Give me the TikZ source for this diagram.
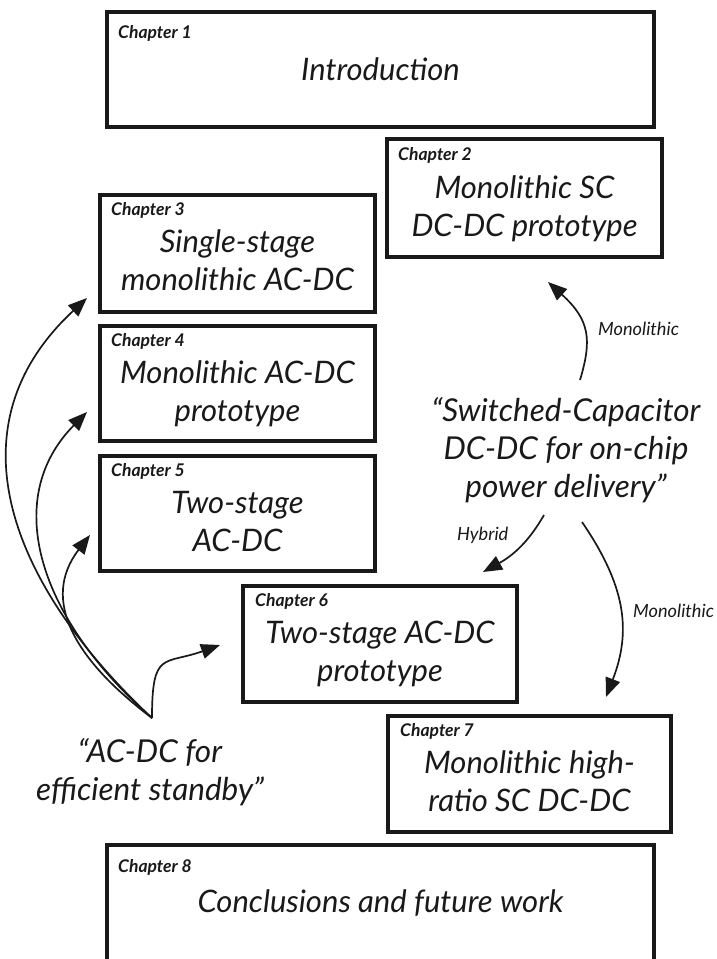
\documentclass[tikz,border=0pt]{standalone}
\usepackage{fontspec}
\setmainfont{Lato}
\usetikzlibrary{arrows.meta,calc}
\begin{document}
\begin{tikzpicture}[x=1pt,y=-1pt,
  chbox/.style={draw=black!90, line width=3.2pt, inner sep=0pt, outer sep=0pt, anchor=north west},
  chlabel/.style={font=\fontsize{17.5}{20}\selectfont\bfseries\itshape, anchor=base west, inner sep=0pt, text=black!90},
  maintext/.style={font=\fontsize{31}{38}\selectfont\itshape, align=center, anchor=base, inner sep=0pt, text=black!90},
  quotetext/.style={font=\fontsize{31.5}{38}\selectfont\itshape, align=center, anchor=base, inner sep=0pt, text=black!90},
  edgelabel/.style={font=\fontsize{18.2}{21}\selectfont\itshape, anchor=base west, inner sep=0pt, text=black!90},
  conn/.style={line width=1.7pt, draw=black!90, -{Triangle[length=19pt,width=15pt]}}]
\useasboundingbox (0,0) rectangle (717,959);

% Chapter boxes (multi-line texts are anchored at the baseline of their last line)
\node[chbox, minimum width=547pt, minimum height=115pt] (c1) at (107,12) {};
\node[chlabel] (l1) at ([xshift=11pt,yshift=-26pt]c1.north west) {Chapter 1};
\node[maintext] (t1) at ([yshift=-68pt]c1.north) {Introduction};

\node[chbox, minimum width=275pt, minimum height=118pt] (c2) at (387,139) {};
\node[chlabel] (l2) at ([xshift=11pt,yshift=-21pt]c2.north west) {Chapter 2};
\node[maintext] (t2) at ([yshift=-97pt]c2.north) {Monolithic SC\\DC-DC prototype};

\node[chbox, minimum width=275pt, minimum height=117pt] (c3) at (100,195) {};
\node[chlabel] (l3) at ([xshift=11pt,yshift=-20pt]c3.north west) {Chapter 3};
\node[maintext] (t3) at ([yshift=-95pt]c3.north) {Single-stage\\monolithic AC-DC};

\node[chbox, minimum width=275pt, minimum height=115pt] (c4) at (100,326) {};
\node[chlabel] (l4) at ([xshift=11pt,yshift=-20pt]c4.north west) {Chapter 4};
\node[maintext] (t4) at ([yshift=-95pt]c4.north) {Monolithic AC-DC\\prototype};

\node[chbox, minimum width=275pt, minimum height=115pt] (c5) at (100,456) {};
\node[chlabel] (l5) at ([xshift=11pt,yshift=-20pt]c5.north west) {Chapter 5};
\node[maintext] (t5) at ([yshift=-95pt]c5.north) {Two-stage\\AC-DC};

\node[chbox, minimum width=274pt, minimum height=116pt] (c6) at (243,586) {};
\node[chlabel] (l6) at ([xshift=12pt,yshift=-20pt]c6.north west) {Chapter 6};
\node[maintext] (t6) at ([yshift=-95pt]c6.north) {Two-stage AC-DC\\prototype};

\node[chbox, minimum width=283pt, minimum height=116pt] (c7) at (388,716) {};
\node[chlabel] (l7) at ([xshift=12pt,yshift=-20pt]c7.north west) {Chapter 7};
\node[maintext] (t7) at ([yshift=-95pt]c7.north) {Monolithic high-\\ratio SC DC-DC};

\node[chbox, minimum width=547pt, minimum height=150pt] (c8) at (107,845) {};
\node[chlabel] (l8) at ([xshift=11pt,yshift=-27pt]c8.north west) {Chapter 8};
\node[maintext] (t8) at ([yshift=-67pt]c8.north) {Conclusions and future work};

% Theme texts
\node[quotetext] (q1) at (150,800) {“AC-DC for\\efficient standby”};
\node[quotetext] (q2) at (566,497) {“Switched-Capacitor\\DC-DC for on-chip\\power delivery”};

% Edge labels
\node[edgelabel] (m1) at (598,335) {Monolithic};
\node[edgelabel] (hy) at (457,540) {Hybrid};
\node[edgelabel] (m2) at (633,617) {Monolithic};

% Arrow start / end points
\coordinate (s1) at (152,718);
\coordinate (s2) at (580,380);
\coordinate (s3) at (544,515);
\coordinate (s4) at (582,522);
\coordinate (e3) at ($(c3.south west)+(-13,-14)$);
\coordinate (e4) at ($(c4.south west)+(-13,-29)$);
\coordinate (e5) at ($(c5.south west)+(-10,-36)$);
\coordinate (e6) at ($(c6.west)+(-23,1)$);
\coordinate (e2) at ($(c2.south)+(23.5,25)$);
\coordinate (e6b) at ($(c6.north east)+(-34,-14)$);
\coordinate (e7) at ($(c7.north)+(76.5,-19)$);

% Connectors
\draw[conn] (s1) .. controls (15,590) and (-55,430) .. (e3);
\draw[conn] (s1) .. controls (40,620) and (0,500) .. (e4);
\draw[conn] (s1) .. controls (75,660) and (40,600) .. (e5);
\draw[conn] (s1) .. controls (152,650) and (164,665) .. (e6);
\draw[conn] (s2) .. controls (592,340) and (590,320) .. (e2);
\draw[conn] (s3) .. controls (528,543) and (512,556) .. (e6b);
\draw[conn] (s4) .. controls (625,585) and (632,630) .. (e7);
\end{tikzpicture}
\end{document}
